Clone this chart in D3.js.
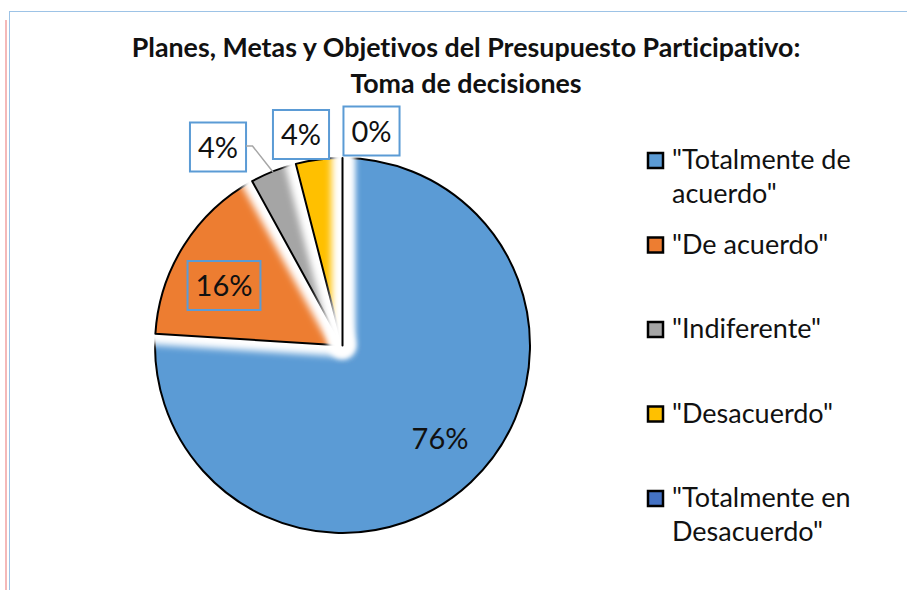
<!DOCTYPE html>
<html>
<head>
<meta charset="utf-8">
<script src="https://cdn.jsdelivr.net/npm/d3@7"></script>
<style>
  body { margin: 0; background: #fff; }
  svg { display: block; font-family: Lato, "Open Sans", sans-serif; font-variant-ligatures: none; }
</style>
</head>
<body>
<script>
// data
var categories = ['"Totalmente de acuerdo"', '"De acuerdo"', '"Indiferente"', '"Desacuerdo"', '"Totalmente en Desacuerdo"'];
var values = [76, 16, 4, 4, 0];
var colors = ['#5B9BD5', '#ED7D31', '#A5A5A5', '#FFC000', '#4472C4'];
var titleLines = ['Planes, Metas y Objetivos del Presupuesto Participativo:', 'Toma de decisiones'];

var width = 907, height = 590,
    cx = 342.5, cy = 345.5, radius = 187.5; // pie centre and size

var svg = d3.select('body').append('svg')
    .attr('width', width)
    .attr('height', height);

// chart frame (only top and left edge visible in the crop)
svg.append('line')
    .attr('x1', 6).attr('y1', 20).attr('x2', 6).attr('y2', height)
    .attr('stroke', '#F4B9B9').attr('stroke-width', 2);
svg.append('rect')
    .attr('x', 9.5).attr('y', 11.5)
    .attr('width', 1000).attr('height', 1000)
    .attr('fill', '#fff')
    .attr('stroke', '#9DC3E6').attr('stroke-width', 1);

// title
svg.append('text')
    .attr('text-anchor', 'middle')
    .attr('font-weight', 'bold')
    .attr('font-size', '26.8px')
    .attr('fill', '#111')
    .selectAll('tspan')
    .data(titleLines)
    .enter().append('tspan')
    .attr('x', 466)
    .attr('y', function (d, i) { return 57 + i * 36; })
    .text(function (d) { return d; });

// soft white glow used on every slice (user space so the 0% slice is not clipped)
var defs = svg.append('defs');
defs.append('filter')
    .attr('id', 'glow')
    .attr('filterUnits', 'userSpaceOnUse')
    .attr('x', -260).attr('y', -260).attr('width', 520).attr('height', 520)
    .append('feGaussianBlur')
    .attr('stdDeviation', 3.5);

var pie = d3.pie().sort(null).value(function (d) { return d; });
var arcs = pie(values);
var arc = d3.arc().innerRadius(0).outerRadius(radius);

var g = svg.append('g')
    .attr('transform', 'translate(' + cx + ',' + cy + ')');

var slice = g.selectAll('g.slice')
    .data(arcs)
    .enter().append('g')
    .attr('class', 'slice');

slice.append('path')
    .attr('d', arc)
    .attr('fill', '#fff')
    .attr('stroke', '#fff')
    .attr('stroke-width', 22)
    .attr('stroke-linejoin', 'round')
    .attr('filter', 'url(#glow)');

slice.append('path')
    .attr('d', arc)
    .attr('fill', function (d, i) { return colors[i]; })
    .attr('stroke', '#000')
    .attr('stroke-width', 2)
    .attr('stroke-linejoin', 'round');

// data label centres, relative to the pie centre
var labelPos = [[97.5, 92.5], [-118.5, -60], [-124.5, -198.5], [-41.5, -211], [29, -214.5]];

// leader line for the grey slice
svg.append('polyline')
    .attr('points', [[cx - 96.5, cy - 199.5], [cx - 90, cy - 199.5], [cx - 69.5, cy - 173.5]].join(' '))
    .attr('fill', 'none')
    .attr('stroke', '#A6A6A6')
    .attr('stroke-width', 1.5);

var label = g.selectAll('g.label')
    .data(arcs)
    .enter().append('g')
    .attr('class', 'label')
    .attr('transform', function (d, i) {
        return 'translate(' + labelPos[i][0] + ',' + labelPos[i][1] + ')';
    });

var labelText = label.append('text')
    .attr('text-anchor', 'middle')
    .attr('y', 10.5)
    .attr('font-size', '29px')
    .attr('fill', '#111')
    .text(function (d) { return Math.round(d.value) + '%'; });

label.insert('rect', 'text')
    .each(function (d, i) {
        var w = labelText.nodes()[i].getComputedTextLength() + 16;
        d3.select(this)
            .attr('x', -w / 2).attr('y', -24.5)
            .attr('width', w).attr('height', 49);
    })
    .attr('fill', function (d, i) { return i > 1 ? '#fff' : 'none'; })
    .attr('stroke', function (d, i) { return i === 0 ? 'none' : '#5B9BD5'; })
    .attr('stroke-width', 2);

// legend
var legendY = d3.scaleLinear().domain([0, categories.length - 1]).range([169, 507]);

var legend = svg.selectAll('g.legend')
    .data(categories)
    .enter().append('g')
    .attr('class', 'legend')
    .attr('transform', function (d, i) { return 'translate(647,' + legendY(i) + ')'; });

legend.append('rect')
    .attr('x', 1).attr('y', -16)
    .attr('width', 15).attr('height', 15)
    .attr('fill', function (d, i) { return colors[i]; })
    .attr('stroke', '#000')
    .attr('stroke-width', 2.5);

legend.append('text')
    .attr('font-size', '27px')
    .attr('fill', '#111')
    .each(function (d) {
        // wrap the label to the legend width
        var text = d3.select(this), words = d.split(' '), line = [], row = 0,
            tspan = text.append('tspan').attr('x', 25).attr('y', 0);
        words.forEach(function (w) {
            line.push(w);
            tspan.text(line.join(' '));
            if (tspan.node().getComputedTextLength() > 205 && line.length > 1) {
                line.pop();
                tspan.text(line.join(' '));
                line = [w];
                row++;
                tspan = text.append('tspan').attr('x', 25).attr('y', row * 34).text(w);
            }
        });
    });
</script>
</body>
</html>
